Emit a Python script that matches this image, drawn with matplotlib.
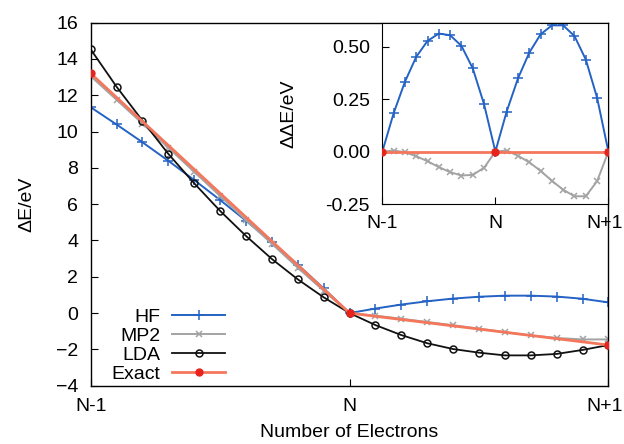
import numpy as np
import matplotlib.pyplot as plt
import matplotlib.transforms as mtrans

# --- データ ---
n_elec = np.linspace(0, 2, 21)          # N-1 ... N ... N+1
xtick_labels = ['N-1', 'N', 'N+1']

hf_main = [11.34, 10.39, 9.41, 8.39, 7.33, 6.23, 5.09, 3.90, 2.67, 1.36, 0.00,
           0.25, 0.47, 0.65, 0.80, 0.90, 0.96, 0.96, 0.91, 0.79, 0.59]
mp2_main = [13.05, 11.75, 10.44, 9.11, 7.78, 6.45, 5.12, 3.82, 2.50, 1.23, 0.00,
            -0.14, -0.31, -0.49, -0.67, -0.86, -1.05, -1.23, -1.37, -1.45, -1.45]
lda_main = [14.53, 12.47, 10.60, 8.77, 7.15, 5.63, 4.25, 2.98, 1.86, 0.87, 0.00,
            -0.66, -1.21, -1.66, -1.98, -2.18, -2.33, -2.33, -2.25, -2.03, -1.76]
exact_x = [0, 1, 2]
exact_main = [13.2, 0.0, -1.76]

# インセット: 各手法の直線からのずれ
hf_inset = [0, 0.183, 0.333, 0.452, 0.528, 0.563, 0.555, 0.504, 0.397, 0.226, 0,
            0.191, 0.349, 0.472, 0.559, 0.602, 0.602, 0.551, 0.439, 0.257, 0]
mp2_inset = [0, 0.005, -0.003, -0.022, -0.046, -0.074, -0.098, -0.114, -0.111, -0.077, 0,
             0.005, -0.020, -0.051, -0.092, -0.139, -0.182, -0.213, -0.213, -0.141, 0]
exact_inset = [0, 0, 0]

# --- スタイル ---
plt.rcParams['font.family'] = ['Liberation Sans', 'DejaVu Sans']
FS = 14
C_HF = '#2462c4'
C_MP2 = '#a3a3a3'
C_LDA = '#111111'
C_EX = '#f4775c'
C_EXM = '#e8231c'

fig = plt.figure(figsize=(6.24, 4.44), dpi=100)
ax = fig.add_axes([0.1453, 0.1313, 0.8297, 0.8177])

ax.plot(n_elec, hf_main, color=C_HF, lw=1.4, marker='+', ms=7, mew=1.1, label='HF')
ax.plot(n_elec, mp2_main, color=C_MP2, lw=1.4, marker='x', ms=5, mew=1.1, label='MP2')
ax.plot(n_elec, lda_main, color=C_LDA, lw=1.3, marker='o', ms=5, mfc='none', mew=1.1, label='LDA')
ax.plot(exact_x, exact_main, color=C_EX, lw=2.0, marker='o', ms=5, mfc=C_EXM, mec=C_EXM,
        label='Exact', zorder=5)

ax.set_xlim(0, 2)
ax.set_ylim(-4, 16)
ax.set_xticks([0, 1, 2])
ax.set_xticklabels(xtick_labels)
ax.set_yticks(np.arange(-4, 17, 2))
ax.tick_params(direction='in', length=5, labelsize=FS, top=False, right=False)
ax.tick_params(axis='x', pad=9)
ax.tick_params(axis='y', pad=9)
ax.set_xlabel('Number of Electrons', fontsize=FS, labelpad=6)
ax.set_ylabel('ΔE/eV', fontsize=FS, labelpad=15)
for s in ax.spines.values():
    s.set_linewidth(1.0)

ax.legend(loc='upper right', bbox_to_anchor=(0.259, 0.214), frameon=False,
          markerfirst=False, fontsize=FS, handlelength=2.7, handletextpad=0.6,
          labelspacing=0.07, borderpad=0, borderaxespad=0)

# --- インセット ---
ins = fig.add_axes([0.6127, 0.5405, 0.3623, 0.4085])
ins.plot(n_elec, hf_inset, color=C_HF, lw=1.4, marker='+', ms=7, mew=1.1)
ins.plot(n_elec, mp2_inset, color=C_MP2, lw=1.4, marker='x', ms=5, mew=1.1)
ins.plot(exact_x, exact_inset, color=C_EX, lw=2.0, marker='o', ms=5, mfc=C_EXM, mec=C_EXM, zorder=5)
ins.set_xlim(0, 2)
ins.set_ylim(-0.25, 0.615)
ins.set_xticks([0, 1, 2])
ins.set_xticklabels(xtick_labels)
ins.set_yticks([-0.25, 0, 0.25, 0.5])
ins.set_yticklabels(['-0.25', '0.00', '0.25', '0.50'])
ins.tick_params(direction='in', length=5, labelsize=FS, top=False, right=False)
ins.tick_params(axis='x', pad=8)
ins.tick_params(axis='y', pad=9)
ins.set_ylabel('ΔΔE/eV', fontsize=FS, labelpad=20)

# 右端の "N+1" が画像からはみ出さないよう少し左へ
shift = mtrans.ScaledTranslation(-4 / 100, 0, fig.dpi_scale_trans)
for a in (ax, ins):
    lbl = a.get_xticklabels()[-1]
    lbl.set_transform(lbl.get_transform() + shift)

plt.savefig('out.png', dpi=100)
